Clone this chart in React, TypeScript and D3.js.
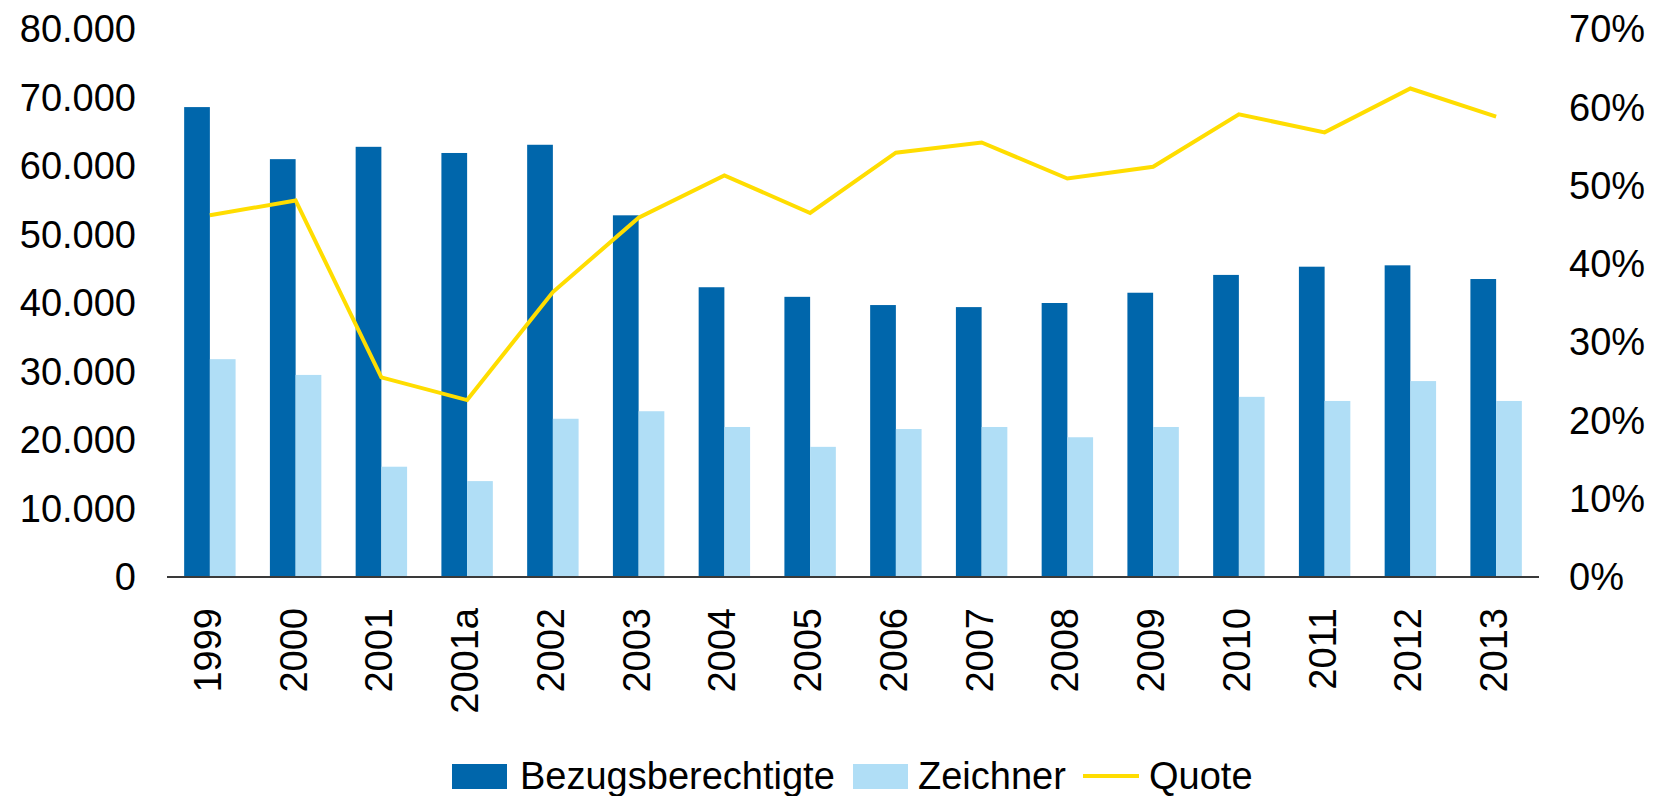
import React from "react";
import * as d3 from "d3";

const categories = ["1999", "2000", "2001", "2001a", "2002", "2003", "2004", "2005", "2006", "2007", "2008", "2009", "2010", "2011", "2012", "2013"];
const bezugsberechtigte = [68600, 61000, 62800, 61900, 63100, 52800, 42300, 40900, 39700, 39400, 40000, 41500, 44100, 45300, 45500, 43500];
const zeichner = [31800, 29500, 16100, 14000, 23100, 24200, 21900, 19000, 21600, 21900, 20400, 21900, 26300, 25700, 28600, 25700];
const quote = [0.462, 0.481, 0.255, 0.226, 0.364, 0.459, 0.513, 0.465, 0.542, 0.555, 0.509, 0.524, 0.591, 0.568, 0.624, 0.588];
const leftTicks = [0, 10000, 20000, 30000, 40000, 50000, 60000, 70000, 80000];
const rightTicks = [0, 0.1, 0.2, 0.3, 0.4, 0.5, 0.6, 0.7];
const seriesNames = ["Bezugsberechtigte", "Zeichner", "Quote"];

const W = 1659;
const H = 796;
const plotLeft = 167;
const plotRight = 1539;
const y0 = 577;
const yTop = 29;
const DARK = "#0066AB";
const LIGHT = "#B0DEF6";
const YELLOW = "#FFDD00";
const FONT = "'Liberation Sans', Arial, sans-serif";
const FS = 38;

const de = d3.formatLocale({ decimal: ",", thousands: ".", grouping: [3], currency: ["", " €"] });
const fmtNum = de.format(",.0f");
const fmtPct = d3.format(".0%");

export default function App() {
  const x = d3.scaleBand<string>().domain(categories).range([plotLeft, plotRight]).padding(0);
  const bw = x.bandwidth();
  const inner = d3.scaleBand<string>().domain(["b", "z"]).range([0, bw]).paddingInner(0).paddingOuter(0.667);
  const yL = d3.scaleLinear().domain([0, 80000]).range([y0, yTop]);
  const yR = d3.scaleLinear().domain([0, 0.7]).range([y0, yTop]);
  const line = d3
    .line<number>()
    .x((_, i) => (x(categories[i]) as number) + bw / 2)
    .y((d) => yR(d));

  return (
    <svg width={W} height={H} style={{ position: "absolute", left: 0, top: 0, background: "#fff" }} fontFamily={FONT}>
      {categories.map((c, i) => (
        <g key={c}>
          <rect x={(x(c) as number) + (inner("b") as number)} y={yL(bezugsberechtigte[i])} width={inner.bandwidth()} height={y0 - yL(bezugsberechtigte[i])} fill={DARK} />
          <rect x={(x(c) as number) + (inner("z") as number)} y={yL(zeichner[i])} width={inner.bandwidth()} height={y0 - yL(zeichner[i])} fill={LIGHT} />
        </g>
      ))}
      <line x1={plotLeft} x2={plotRight} y1={y0} y2={y0} stroke="#3a3a3a" strokeWidth={2} />
      <path d={line(quote) || ""} fill="none" stroke={YELLOW} strokeWidth={4} strokeLinejoin="miter" />
      {leftTicks.map((t) => (
        <text key={t} x={136} y={yL(t)} dy="0.35em" textAnchor="end" fontSize={FS} fill="#000">
          {fmtNum(t)}
        </text>
      ))}
      {rightTicks.map((t) => (
        <text key={t} x={1569} y={yR(t)} dy="0.35em" textAnchor="start" fontSize={FS} fill="#000">
          {fmtPct(t)}
        </text>
      ))}
      {categories.map((c) => (
        <text key={c} transform={`translate(${(x(c) as number) + bw / 2 + 11},608) rotate(-90)`} textAnchor="end" fontSize={FS} fill="#000">
          {c}
        </text>
      ))}
      <g>
        <rect x={452} y={764} width={55} height={25} fill={DARK} />
        <text x={520} y={789} fontSize={FS} fill="#000">{seriesNames[0]}</text>
        <rect x={853} y={764} width={55} height={25} fill={LIGHT} />
        <text x={918} y={789} fontSize={FS} fill="#000">{seriesNames[1]}</text>
        <line x1={1083} x2={1139} y1={776} y2={776} stroke={YELLOW} strokeWidth={4} />
        <text x={1149} y={789} fontSize={FS} fill="#000">{seriesNames[2]}</text>
      </g>
    </svg>
  );
}
